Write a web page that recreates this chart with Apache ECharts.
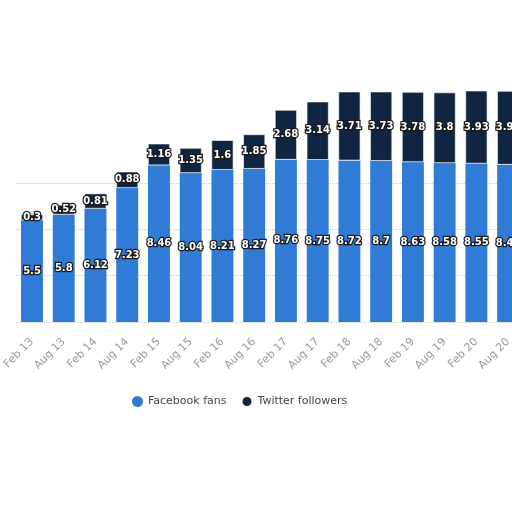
<!DOCTYPE html>
<html>
<head>
<meta charset="utf-8">
<script src="https://cdn.jsdelivr.net/npm/echarts@6/dist/echarts.min.js"></script>
<style>html,body{margin:0;padding:0;background:#fff;overflow:hidden;width:512px;height:512px;}#c{width:560px;height:512px;}</style>
</head>
<body>
<div id="c"></div>
<script>
var categories = ['Feb 13','Aug 13','Feb 14','Aug 14','Feb 15','Aug 15','Feb 16','Aug 16','Feb 17','Aug 17','Feb 18','Aug 18','Feb 19','Aug 19','Feb 20','Aug 20'];
var facebookFans = [5.5, 5.8, 6.12, 7.23, 8.46, 8.04, 8.21, 8.27, 8.76, 8.75, 8.72, 8.7, 8.63, 8.58, 8.55, 8.49];
var twitterFollowers = [0.3, 0.52, 0.81, 0.88, 1.16, 1.35, 1.6, 1.85, 2.68, 3.14, 3.71, 3.73, 3.78, 3.8, 3.93, 3.97];
var seriesNames = ['Facebook fans', 'Twitter followers'];

var labelStyle = {
  show: true,
  position: 'inside',
  color: '#fff',
  fontSize: 10,
  fontWeight: 'bold',
  fontFamily: 'DejaVu Sans',
  textBorderColor: '#1a1a1a',
  textBorderWidth: 2.5
};
var chart = echarts.init(document.getElementById('c'));
chart.setOption({
  animation: false,
  backgroundColor: '#fff',
  grid: { left: 11, width: 513, top: 44, bottom: 190 },
  legend: {
    data: seriesNames,
    left: 127,
    top: 390,
    icon: 'circle',
    itemWidth: 11,
    itemHeight: 11,
    itemGap: 14,
    textStyle: { color: '#444', fontSize: 11, fontFamily: 'DejaVu Sans' }
  },
  xAxis: {
    type: 'category',
    data: categories,
    axisLine: { show: false },
    axisTick: { show: false },
    axisLabel: { rotate: 45, color: '#999', fontSize: 11, margin: 18, fontFamily: 'DejaVu Sans' }
  },
  yAxis: {
    type: 'value',
    min: 0, max: 15, interval: 2.5,
    axisLabel: { show: false },
    axisLine: { show: false },
    axisTick: { show: false },
    splitLine: { lineStyle: { type: 'dotted', color: ['#ccc','#ccc','#ccc','#ccc','rgba(0,0,0,0)','rgba(0,0,0,0)','rgba(0,0,0,0)'] } }
  },
  series: [
    {
      name: seriesNames[0], type: 'bar', stack: 's', data: facebookFans,
      barCategoryGap: '31%',
      itemStyle: { color: '#2f7bd6' },
      label: labelStyle
    },
    {
      name: seriesNames[1], type: 'bar', stack: 's', data: twitterFollowers,
      itemStyle: { color: '#0f2541', borderColor: '#fff', borderWidth: 0.6 },
      label: labelStyle
    }
  ]
});
</script>
</body>
</html>
